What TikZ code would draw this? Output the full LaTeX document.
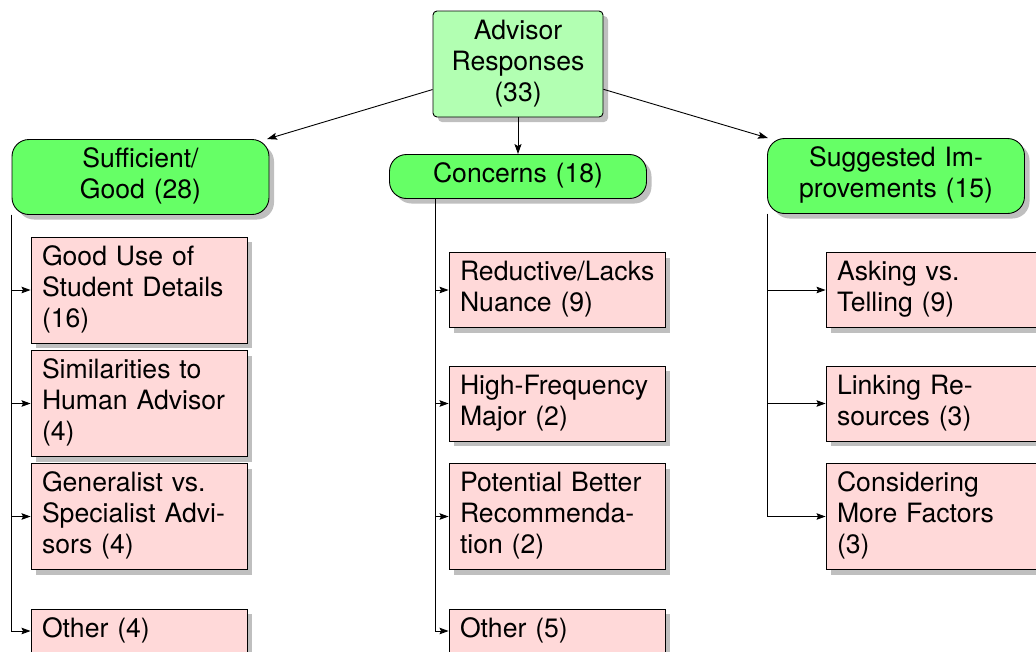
\documentclass[tikz,border=0pt]{standalone}
\usepackage{fontspec}
\setmainfont{TeX Gyre Heros}
\usetikzlibrary{shadows,arrows.meta}
\hyphenpenalty=10000
\exhyphenpenalty=10000
\begin{document}
\begin{tikzpicture}[x=1pt,y=-1pt,
  every node/.style={font=\fontsize{26.6}{31}\selectfont, inner xsep=11pt, inner ysep=6.5pt,
    execute at begin node=\strut, execute at end node=\strut, line width=0.9pt},
  shad/.style={drop shadow={shadow xshift=5pt, shadow yshift=-5pt, fill=black!25, opacity=1}},
  rootbox/.style={draw, fill=green!30, rounded corners=4pt, text width=148pt, align=center, shad},
  catbox/.style={draw, fill=green!60, rounded corners=17pt, text width=235pt, align=center, shad},
  leafbox/.style={draw, fill=red!15, text width=194pt, align=left, shad},
  arr/.style={-{Stealth[length=10pt,width=7pt,inset=2pt]}, line width=0.9pt},
  sarr/.style={-{Stealth[length=9pt,width=6.5pt,inset=1.5pt]}, line width=0.9pt},
]
\useasboundingbox (0,0) rectangle (1036,651);
\clip (0,0) rectangle (1036,651);

\node[rootbox] (root) at (518,64) {Advisor\\Responses\\(33)};

\node[catbox] (suff) at (140.5,177) {Sufficient/\\Good (28)};
\node[catbox] (conc) at (518,176.5) {Concerns (18)};
\node[catbox] (sugg) at (896,176) {Suggested Im-\\provements (15)};

\node[leafbox] (l1) at (139,290) {Good Use of\\Student Details\\(16)};
\node[leafbox] (l2) at (139,403.5) {Similarities to\\Human Advisor\\(4)};
\node[leafbox] (l3) at (139,516.5) {Generalist vs.\\Specialist Advi-\\sors (4)};
\node[leafbox] (l4) at (139,631) {Other (4)};

\node[leafbox] (m1) at (557,290) {Reductive/Lacks\\Nuance (9)};
\node[leafbox] (m2) at (557,403.5) {High-Frequency\\Major (2)};
\node[leafbox] (m3) at (557,516.5) {Potential Better\\Recommenda-\\tion (2)};
\node[leafbox] (m4) at (557,631) {Other (5)};

\node[leafbox] (r1) at (934,290) {Asking vs.\\Telling (9)};
\node[leafbox] (r2) at (934,403.5) {Linking Re-\\sources (3)};
\node[leafbox] (r3) at (934,516.5) {Considering\\More Factors\\(3)};

\draw[arr] (root) -- (suff);
\draw[arr] (root) -- (conc);
\draw[arr] (root) -- (sugg);

\foreach \c in {l1,l2,l3,l4}
  \draw[sarr] (suff.south west) |- (\c.west);
\coordinate (cm) at ([xshift=46pt]conc.south west);
\foreach \c in {m1,m2,m3,m4}
  \draw[sarr] (cm) |- (\c.west);
\foreach \c in {r1,r2,r3}
  \draw[sarr] (sugg.south west) |- (\c.west);
\end{tikzpicture}
\end{document}
